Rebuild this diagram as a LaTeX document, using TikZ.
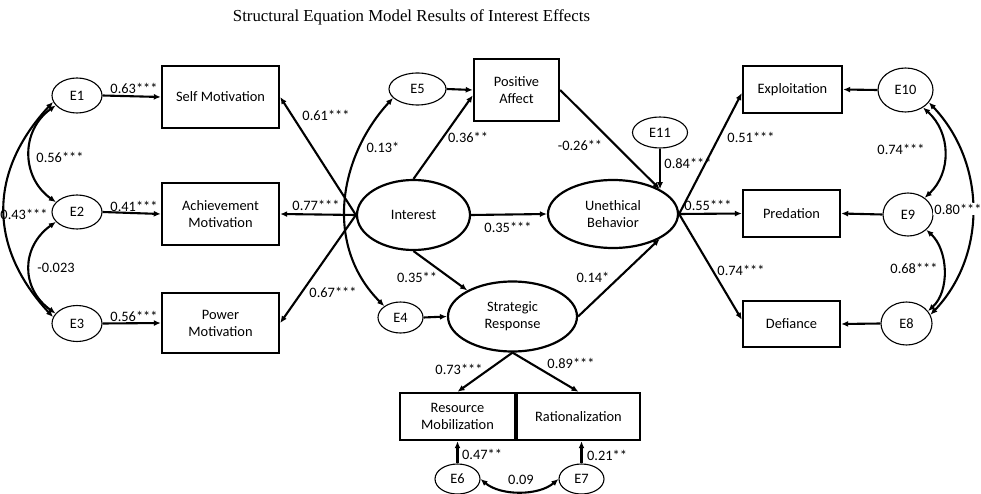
\documentclass[tikz,border=0pt]{standalone}
\usepackage{fontspec}
\setmainfont{Liberation Serif}
\newfontfamily\lblfont{Carlito}
\usetikzlibrary{shapes.geometric,arrows.meta,calc}

\begin{document}
\begin{tikzpicture}[x=1pt,y=-1pt,
  txt/.style={font=\lblfont\fontsize{14.4}{17}\selectfont},
  lbl/.style={txt,inner sep=1pt},
  box/.style={txt,draw,rectangle,line width=2.4pt,inner sep=0pt,align=center,
              minimum width=#1},
  err/.style={txt,draw,ellipse,line width=1.1pt,inner sep=0pt},
  lat/.style={txt,draw,ellipse,line width=2.2pt,inner sep=0pt,align=center},
  arr/.style={line width=2.1pt,-{Latex[length=7pt,width=6pt]}},
  cov/.style={line width=2.1pt,{Latex[length=7pt,width=6pt]}-{Latex[length=7pt,width=6pt]}}
]
\useasboundingbox (0,0) rectangle (981,494);

% title
\node[font=\fontsize{16.8}{20}\selectfont,anchor=base,inner sep=0pt] (ttl) at (411.5,22)
  {Structural Equation Model Results of Interest Effects};

% observed variables
\node[box=117pt,minimum height=62pt] (sm) at (220.5,97) {Self Motivation};
\node[box=117pt,minimum height=62pt] (am) at (220.5,214) {Achievement\\Motivation};
\node[box=117pt,minimum height=60pt] (pm) at (220.5,323) {Power\\Motivation};
\node[box=85pt,minimum height=62pt] (pa) at (516.5,90) {Positive\\Affect};
\node[box=99pt,minimum height=47pt] (ex) at (792.5,89.5) {Exploitation};
\node[box=97pt,minimum height=47pt] (pr) at (791.5,213.5) {Predation};
\node[box=97pt,minimum height=46pt] (df) at (791.5,324) {Defiance};
\node[box=115pt,minimum height=47pt] (rm) at (457.5,416.5) {Resource\\Mobilization};
\node[box=123pt,minimum height=47pt] (rat) at (578.5,416.5) {Rationalization};

% latent variables
\node[lat,minimum width=113pt,minimum height=70pt] (int) at (413.5,215) {Interest};
\node[lat,minimum width=130pt,minimum height=68pt] (ub) at (613,214) {Unethical\\Behavior};
\node[lat,minimum width=129pt,minimum height=70pt] (sr) at (512.5,316.5) {Strategic\\Response};

% error terms
\node[err,minimum width=50pt,minimum height=35pt] (e1) at (77,95.5) {E1};
\node[err,minimum width=50pt,minimum height=34pt] (e2) at (77,212) {E2};
\node[err,minimum width=50pt,minimum height=36pt] (e3) at (77,323.5) {E3};
\node[err,minimum width=45pt,minimum height=31pt] (e4) at (400.5,317.5) {E4};
\node[err,minimum width=57pt,minimum height=32pt] (e5) at (417.5,89) {E5};
\node[err,minimum width=45pt,minimum height=30pt] (e6) at (457.5,479) {E6};
\node[err,minimum width=45pt,minimum height=30pt] (e7) at (581.5,479) {E7};
\node[err,minimum width=51pt,minimum height=43pt] (e8) at (906.5,323.5) {E8};
\node[err,minimum width=50pt,minimum height=43pt] (e9) at (908,214.5) {E9};
\node[err,minimum width=55pt,minimum height=44pt] (e10) at (905.5,90) {E10};
\node[err,minimum width=55pt,minimum height=31pt] (e11) at (660,132.5) {E11};

% paths
\draw[arr] (e1.east) -- (sm.west);
\draw[arr] (e2.east) -- (am.west);
\draw[arr] (e3.east) -- (pm.west);
\draw[arr] (int.west) -- (sm.east);
\draw[arr] (int.west) -- (am.east);
\draw[arr] (int.west) -- (pm.east);
\draw[arr] (int.north) -- (pa.187);
\draw[arr] (e5.east) -- (pa.west);
\draw[arr] (int.east) -- (ub.west);
\draw[arr] (int.south) -- (sr.150);
\draw[arr] (e4.east) -- (sr.west);
\draw[arr] (pa.east) -- (ub.28);
\draw[arr] (e11.south) -- (e11.south |- ub.28);
\draw[arr] (sr.east) -- (ub.332);
\draw[arr] (ub.east) -- (ex.184);
\draw[arr] (ub.east) -- (pr.west);
\draw[arr] (ub.east) -- (df.175);
\draw[arr] (e10.west) -- (ex.east);
\draw[arr] (e9.west) -- (pr.east);
\draw[arr] (e8.west) -- (df.east);
\draw[arr] (sr.south) -- (rm.north);
\draw[arr] (sr.south) -- (rat.north);
\draw[arr] (e6.north) -- (rm.south);
\draw[arr] (e7.north) -- (e7.north |- rat.south);

% covariances
\draw[cov] (e1.205) .. controls +(-35,25) and +(-35,-25) .. (e2.155);
\draw[cov] (e2.205) .. controls +(-35,25) and +(-35,-25) .. (e3.155);
\draw[cov] (e1.195) .. controls +(-65,70) and +(-65,-70) .. (e3.165);
\draw[cov] (e5.200) .. controls +(-55,60) and +(-60,-60) .. (e4.145);
\draw[cov] (e10.-45) .. controls +(28,25) and +(27,-25) .. (e9.45);
\draw[cov] (e9.-40) .. controls +(22,20) and +(22,-20) .. (e8.30);
\draw[cov] (e10.-28) .. controls +(57,60) and +(57,-60) .. (e8.20);
\draw[cov] (e6.east) .. controls +(20,17) and +(-20,17) .. (e7.west);

% coefficients
\node[lbl] (c1) at (134,88) {0.63***};
\node[lbl] (c2) at (134,206) {0.41***};
\node[lbl] (c3) at (134,316) {0.56***};
\node[lbl] (c4) at (326,115) {0.61***};
\node[lbl] (c5) at (316,205) {0.77***};
\node[lbl] (c6) at (333,292) {0.67***};
\node[lbl] (c7) at (60,157) {0.56***};
\node[lbl] (c8) at (24,214) {0.43***};
\node[lbl] (c9) at (56,268) {-0.023};
\node[lbl] (c10) at (383,147) {0.13*};
\node[lbl] (c11) at (468,137) {0.36**};
\node[lbl] (c12) at (580,145) {-0.26**};
\node[lbl] (c13) at (688,163) {0.84***};
\node[lbl] (c14) at (508,227) {0.35***};
\node[lbl] (c15) at (417,277) {0.35**};
\node[lbl] (c16) at (593,277) {0.14*};
\node[lbl] (c17) at (751,137) {0.51***};
\node[lbl] (c18) at (708,205) {0.55***};
\node[lbl] (c19) at (741,270) {0.74***};
\node[lbl] (c20) at (901,149) {0.74***};
\node[lbl,fill=white] (c21) at (958,209) {0.80***};
\node[lbl] (c22) at (914,268) {0.68***};
\node[lbl] (c23) at (459,369) {0.73***};
\node[lbl] (c24) at (571,363) {0.89***};
\node[lbl] (c25) at (482,454) {0.47**};
\node[lbl] (c26) at (607,455) {0.21**};
\node[lbl] (c27) at (521,480) {0.09};
\end{tikzpicture}
\end{document}
